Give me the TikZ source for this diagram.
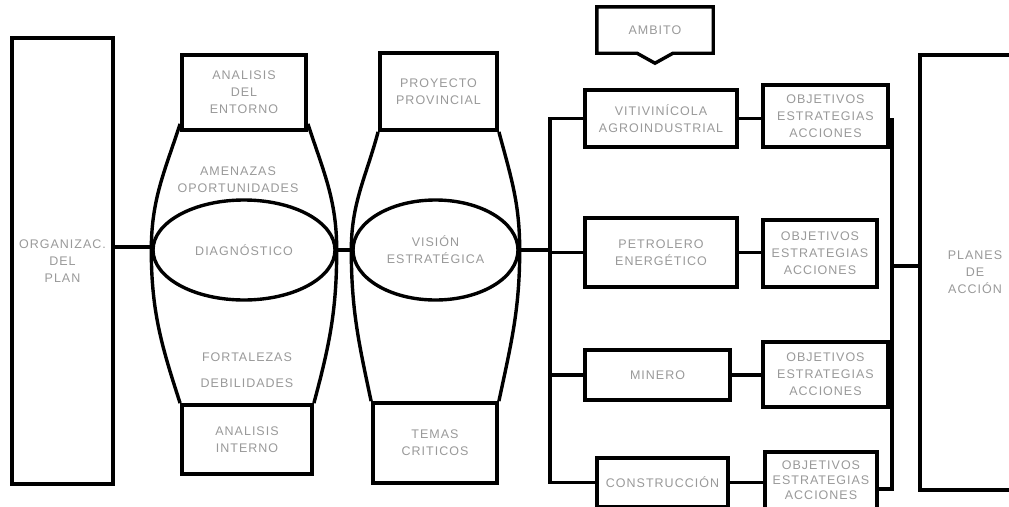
\documentclass[tikz,border=0pt]{standalone}
\usepackage{fontspec}
\setmainfont{Liberation Sans}[LetterSpace=8]
\usetikzlibrary{shapes.geometric,calc}
\tikzset{
  lbl/.style={text=black!40, font=\fontsize{12.5}{17}\selectfont, align=center, inner sep=0pt},
  bx/.style={lbl, draw=black, line width=3.8pt, rectangle},
  ell/.style={lbl, draw=black, line width=3.4pt, ellipse, inner sep=0pt},
  conn/.style={draw=black, line width=3.2pt},
  barrel/.style={draw=black, line width=3.4pt},
}
\begin{document}
\begin{tikzpicture}[x=1pt,y=-1pt]
\useasboundingbox (0,0) rectangle (1009,506);
\clip (0,0) rectangle (1009,506);
% left column
\node[bx, minimum width=101pt, minimum height=446pt] (org) at (62.5,261) {ORGANIZAC.\\DEL\\PLAN};
% diagnostico
\node[bx, minimum width=124pt, minimum height=75pt] (anaent) at (244,92.5) {ANALISIS\\DEL\\ENTORNO};
\node[bx, minimum width=130pt, minimum height=69pt] (anaint) at (247,439.5) {ANALISIS\\INTERNO};
\node[ell, minimum width=182pt, minimum height=100pt] (diag) at (244,250) {DIAGNÓSTICO};
\node[lbl] (amen) at (238,180) {AMENAZAS\\OPORTUNIDADES};
\node[lbl] (fort) at (247,357) {FORTALEZAS};
\node[lbl] (deb) at (247,383) {DEBILIDADES};
\draw[barrel] ([yshift=8pt]anaent.south west) to[out=-108,in=90] (diag.west) to[out=-90,in=108] (anaint.north west);
\draw[barrel] ([yshift=8pt]anaent.south east) to[out=-72,in=90] (diag.east) to[out=-90,in=75] (anaint.north east);
% vision
\node[bx, minimum width=117pt, minimum height=77pt] (proy) at (438.5,91.5) {PROYECTO\\PROVINCIAL};
\node[bx, minimum width=124pt, minimum height=80pt] (temas) at (435,443) {TEMAS\\CRITICOS};
\node[ell, minimum width=165pt, minimum height=100pt] (vis) at (435.5,250) {VISIÓN\\ESTRATÉGICA};
\draw[barrel] (proy.south west) to[out=-105,in=90] (vis.west) to[out=-90,in=102] (temas.north west);
\draw[barrel] (proy.south east) to[out=-75,in=90] (vis.east) to[out=-90,in=78] (temas.north east);
% connectors left part
\draw[conn] (org.east |- 0,247) -- (diag.west |- 0,247);
\draw[conn] (diag.east) -- (vis.west);
% ambito
\node[lbl, minimum width=116pt, minimum height=46pt] (ambito) at (655,30) {AMBITO};
\draw[barrel] (ambito.north west) -- (ambito.north east) -- (ambito.south east)
  -- ($(ambito.south)+(18,0)$) -- ($(ambito.south)+(0,10)$) -- ($(ambito.south)+(-18,0)$)
  -- (ambito.south west) -- cycle;
% sectors
\node[bx, minimum width=152pt, minimum height=57pt] (b1) at (661,118.5) {VITIVINÍCOLA\\AGROINDUSTRIAL};
\node[bx, minimum width=152pt, minimum height=69pt] (b2) at (661,252.5) {PETROLERO\\ENERGÉTICO};
\node[bx, minimum width=145pt, minimum height=50pt] (b3) at (657.5,375) {MINERO};
\node[bx, minimum width=131pt, minimum height=49pt] (b4) at (662.5,482.5) {CONSTRUCCIÓN};
\node[bx, minimum width=125pt, minimum height=62pt] (o1) at (825.5,116) {OBJETIVOS\\ESTRATEGIAS\\ACCIONES};
\node[bx, minimum width=114pt, minimum height=67pt] (o2) at (820,253.5) {OBJETIVOS\\ESTRATEGIAS\\ACCIONES};
\node[bx, minimum width=125pt, minimum height=65pt] (o3) at (825.5,374.5) {OBJETIVOS\\ESTRATEGIAS\\ACCIONES};
\node[bx, minimum width=112pt, minimum height=57pt, font=\fontsize{12.5}{15}\selectfont] (o4) at (821,480.5) {OBJETIVOS\\ESTRATEGIAS\\ACCIONES};
\node[bx, minimum width=110pt, minimum height=435pt] (planes) at (975,272.5) {PLANES\\DE\\ACCIÓN};
% left spine
\coordinate (spine) at (550,0);
\draw[conn] (vis.east) -- (vis.east -| spine);
\draw[conn] (b1.west) -- (b1.west -| spine) -- (b4.west -| spine) -- (b4.west);
\draw[conn] (b2.west) -- (b2.west -| spine);
\draw[conn] (b3.west) -- (b3.west -| spine);
% sector to objectives
\draw[conn] (b1.east) -- (b1.east -| o1.west);
\draw[conn] (b2.east) -- (b2.east -| o2.west);
\draw[conn] (b3.east) -- (b3.east -| o3.west);
\draw[conn] (b4.east) -- (b4.east -| o4.west);
% right spine
\coordinate (rtop) at (892,120);
\coordinate (rbot) at (892,489);
\coordinate (rmid) at (892,266);
\draw[conn] (o1.east |- rtop) -- (rtop) -- (rbot) -- (o4.east |- rbot);
\draw[conn] (rmid) -- (planes.west |- rmid);
\end{tikzpicture}
\end{document}
